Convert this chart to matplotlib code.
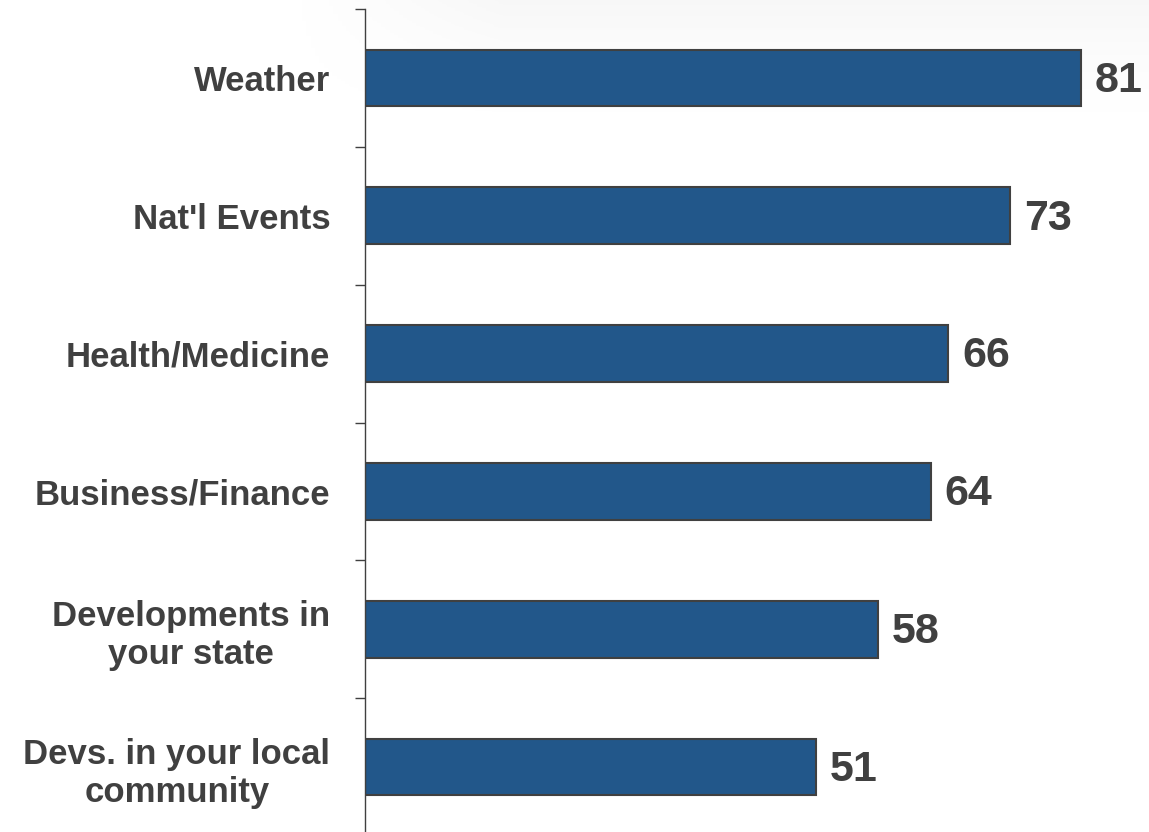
import matplotlib.pyplot as plt
import numpy as np

categories = ["Weather", "Nat'l Events", "Health/Medicine", "Business/Finance",
              "Developments in\nyour state", "Devs. in your local\ncommunity"]
values = [81, 73, 66, 64, 58, 51]

bar_color = '#22578a'
text_color = '#404040'

plt.rcParams['font.family'] = ['Liberation Sans', 'DejaVu Sans']

fig = plt.figure(figsize=(11.49, 8.32), dpi=100)

# faint grey shading at the top of the slide, fading down and to the left
bg = fig.add_axes([0.25, 0.84, 0.75, 0.16], zorder=-5)
vert = np.linspace(1, 0, 100).reshape(-1, 1) ** 1.5
horiz = np.clip(np.linspace(0, 1, 200) * 4, 0, 1).reshape(1, -1)
bg.imshow(vert * horiz, aspect='auto', cmap='Greys', vmin=0, vmax=16, extent=[0, 1, 0, 1])
bg.axis('off')

ax = fig.add_axes([365 / 1149, -4 / 832, 1 - 365 / 1149, 827 / 832])
ax.patch.set_alpha(0)

y = np.arange(len(categories))
ax.barh(y, values, height=0.41, color=bar_color, edgecolor=text_color, linewidth=1.5)

for yi, v in zip(y, values):
    ax.text(v + 1.6, yi + 0.02, str(v), va='center', ha='left', fontsize=31,
            fontweight='bold', color=text_color)

ax.set_xlim(0, 88.7)
ax.set_ylim(len(categories) - 0.5, -0.5)

# labels at bar centres, tick marks at the boundaries
ax.set_yticks(y)
ax.set_yticklabels(categories, fontsize=25, fontweight='bold', color=text_color)
for lab in ax.get_yticklabels():
    lab.set_multialignment('center')
ax.tick_params(axis='y', which='major', length=0, pad=25)
ax.set_yticks(np.arange(-0.5, len(categories)), minor=True)
ax.tick_params(axis='y', which='minor', length=7, width=1, color=text_color, direction='out')

ax.set_xticks([])
for s in ['top', 'right', 'bottom']:
    ax.spines[s].set_visible(False)
ax.spines['left'].set_color(text_color)
ax.spines['left'].set_linewidth(1)

fig.savefig('out.png', dpi=100, facecolor='white')
